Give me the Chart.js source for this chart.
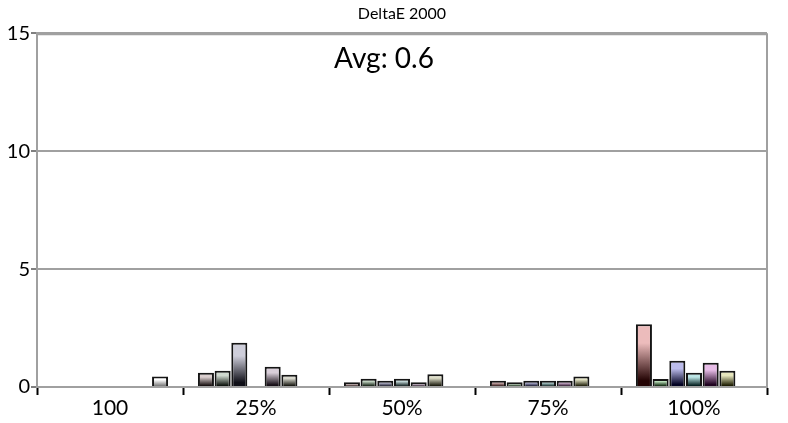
<!DOCTYPE html>
<html>
<head>
<meta charset="utf-8">
<script src="https://cdn.jsdelivr.net/npm/chart.js@4"></script>
<style>
  html, body { margin: 0; padding: 0; background: #fff; }
  #wrap { width: 788px; height: 423px; position: relative; }
</style>
</head>
<body>
<div id="wrap"><canvas id="chart"></canvas></div>
<script>
const categories = ['100', '25%', '50%', '75%', '100%'];
const saturation = [0, 0.25, 0.5, 0.75, 1];

const redValues     = [null, 0.60, 0.20, 0.27, 2.66];
const greenValues   = [null, 0.69, 0.35, 0.20, 0.34];
const blueValues    = [null, 1.88, 0.27, 0.27, 1.11];
const cyanValues    = [null, 0.00, 0.35, 0.27, 0.60];
const magentaValues = [null, 0.86, 0.20, 0.27, 1.03];
const yellowValues  = [null, 0.52, 0.54, 0.44, 0.69];
const whiteValues   = [0.44, null, null, null, null];

const yTicks = [0, 5, 10, 15];
const avgLabel = 'Avg: 0.6';

const hues = {
  Red: [255, 0, 0],
  Green: [0, 200, 0],
  Blue: [0, 0, 255],
  Cyan: [0, 220, 220],
  Magenta: [230, 0, 230],
  Yellow: [220, 220, 0],
  White: [255, 255, 255]
};

function mix(a, b, t) {
  return a.map((v, i) => Math.round(v * (1 - t) + b[i] * t));
}
function rgb(c) { return 'rgb(' + c.join(',') + ')'; }

function barFill(name) {
  return function (ctx) {
    const hue = hues[name];
    const sat = name === 'White' ? 1 : (saturation[ctx.dataIndex] || 0) * 0.85;
    const base = mix([128, 128, 128], hue, sat);
    const light = name === 'White' ? [255, 255, 255] : mix(base, [236, 236, 236], 0.78);
    const dark = name === 'White' ? [120, 120, 120] : base.map(v => Math.round(v * 0.15));
    const chart = ctx.chart;
    const y = chart.scales && chart.scales.y;
    if (ctx.type !== 'data' || !y || ctx.raw == null) return rgb(light);
    const top = y.getPixelForValue(ctx.raw);
    const bottom = y.getPixelForValue(0);
    if (!isFinite(top) || !isFinite(bottom)) return rgb(light);
    if (bottom - top < 1) return rgb(dark);
    const g = chart.ctx.createLinearGradient(0, top, 0, bottom);
    g.addColorStop(0, rgb(light));
    g.addColorStop(0.3, rgb(light));
    g.addColorStop(0.9, rgb(dark));
    g.addColorStop(1, rgb(dark));
    return g;
  };
}

function series(name, data) {
  return {
    label: name,
    data: data,
    backgroundColor: barFill(name),
    borderColor: '#151515',
    borderWidth: 2,
    categoryPercentage: 0.8,
    barPercentage: 0.96
  };
}

const frameAndAvg = {
  id: 'frameAndAvg',
  beforeDatasetsDraw(chart) {
    const { ctx, chartArea } = chart;
    ctx.save();
    ctx.strokeStyle = '#a0a0a0';
    ctx.lineWidth = 2;
    ctx.beginPath();
    ctx.moveTo(chartArea.right, chartArea.top);
    ctx.lineTo(chartArea.right, chartArea.bottom);
    ctx.moveTo(chartArea.left, chartArea.top + 1);
    ctx.lineTo(chartArea.right, chartArea.top + 1);
    ctx.stroke();
    ctx.restore();
  },
  afterDraw(chart) {
    const { ctx, chartArea } = chart;
    ctx.save();
    ctx.font = '28px Lato';
    ctx.fillStyle = '#000';
    ctx.textAlign = 'center';
    ctx.textBaseline = 'middle';
    ctx.fillText(avgLabel, (chartArea.left + chartArea.right) / 2 - 18, chartArea.top + 26);
    ctx.restore();
  }
};

new Chart(document.getElementById('chart'), {
  type: 'bar',
  data: {
    labels: categories,
    datasets: [
      series('Red', redValues),
      series('Green', greenValues),
      series('Blue', blueValues),
      series('Cyan', cyanValues),
      series('Magenta', magentaValues),
      series('Yellow', yellowValues),
      series('White', whiteValues)
    ]
  },
  options: {
    responsive: true,
    maintainAspectRatio: false,
    animation: false,
    layout: { padding: { left: 0, right: 21, top: 0, bottom: 0 } },
    plugins: {
      legend: { display: false },
      tooltip: { enabled: false },
      title: {
        display: true,
        text: 'DeltaE 2000',
        fullSize: false,
        color: '#000',
        font: { family: 'Lato', size: 16, weight: 'normal' },
        padding: { top: 4, bottom: 10 }
      }
    },
    scales: {
      x: {
        grid: {
          offset: true,
          drawOnChartArea: false,
          tickLength: 8,
          tickColor: '#000',
          tickWidth: 2
        },
        border: { color: '#a0a0a0', width: 2 },
        ticks: {
          color: '#000',
          padding: 1,
          font: { family: 'Lato', size: 21 }
        },
        afterFit(scale) { scale.height = 36; }
      },
      y: {
        min: 0,
        max: 15,
        afterBuildTicks(scale) { scale.ticks = yTicks.map(v => ({ value: v })); },
        grid: {
          color: '#a0a0a0',
          lineWidth: 2,
          tickLength: 6,
          tickColor: '#000',
          tickWidth: 1
        },
        border: { color: '#a0a0a0', width: 2 },
        ticks: {
          color: '#000',
          padding: 1,
          font: { family: 'Lato', size: 20 }
        },
        afterFit(scale) { scale.width = 37; }
      }
    }
  },
  plugins: [frameAndAvg]
});
</script>
</body>
</html>
